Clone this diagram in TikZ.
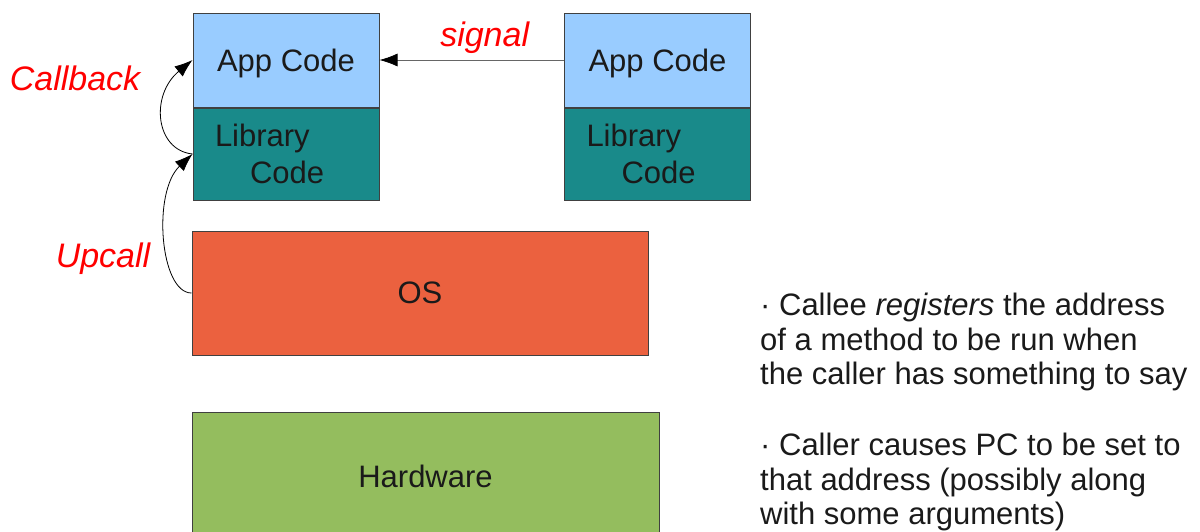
\documentclass[tikz,border=0pt]{standalone}
\usepackage{fontspec}
\setmainfont{Liberation Sans}
\usetikzlibrary{arrows.meta}

\definecolor{appblue}{HTML}{99CCFF}
\definecolor{libteal}{HTML}{198A8A}
\definecolor{osred}{HTML}{EB613F}
\definecolor{hwgreen}{HTML}{94BD5E}
\definecolor{ink}{HTML}{1A1A1A}

\begin{document}
\begin{tikzpicture}
  [x=1pt,y=-1pt,
   every node/.style={font=\fontsize{31}{34.5}\selectfont,text=ink},
   layer/.style={draw=black!75,line width=1pt,inner sep=0pt},
   appbox/.style={layer,fill=appblue,minimum width=186pt,minimum height=94pt,
                  text height=22pt,text depth=0pt},
   libbox/.style={layer,fill=libteal,minimum width=186pt,minimum height=92pt,
                  text width=142pt,inner xsep=22pt,align=left,
                  font=\fontsize{31}{36.5}\selectfont},
   tag/.style={text=red,font=\fontsize{34}{38}\selectfont\itshape},
   call/.style={-{Latex[length=18pt,width=13pt,color=black]},line width=0.8pt}]

  \path[use as bounding box,clip] (0,0) rectangle (1200,531);

  % two processes, each with app and library layer
  \node[appbox] (app1) at (286,60) {App Code};
  \node[libbox] (lib1) at (286,154) {Library\\\hspace*{35pt}Code};
  \node[appbox] (app2) at (657.5,60) {App Code};
  \node[libbox] (lib2) at (657.5,154) {Library\\\hspace*{35pt}Code};

  % system layers
  \node[layer,fill=osred,minimum width=456pt,minimum height=124pt] (os) at (420,293) {OS};
  \node[layer,fill=hwgreen,minimum width=467pt,minimum height=128pt] (hw) at (425.5,476) {Hardware};

  % calls
  \draw[call,draw=black!60] (app2.west) -- node[tag,anchor=base,pos=0.43,yshift=14pt] (sig) {signal} (app1.east);
  \draw[call] (lib1.west) .. controls (155,150) and (150,95) .. (app1.west);
  \draw[call] (os.west) .. controls (160,293) and (152,192) .. (lib1.west);

  \node[tag,anchor=base] (cb) at (75,90) {Callback};
  \node[tag,anchor=base] (up) at (103,267) {Upcall};

  % notes
  \node[anchor=north west,align=left,inner sep=0pt] (note1) at (760,293)
    {· Callee \textit{registers} the address\\of a method to be run when\\the caller has something to say};
  \node[anchor=north west,align=left,inner sep=0pt] (note2) at (760,433)
    {· Caller causes PC to be set to\\that address (possibly along\\with some arguments)};
\end{tikzpicture}
\end{document}
